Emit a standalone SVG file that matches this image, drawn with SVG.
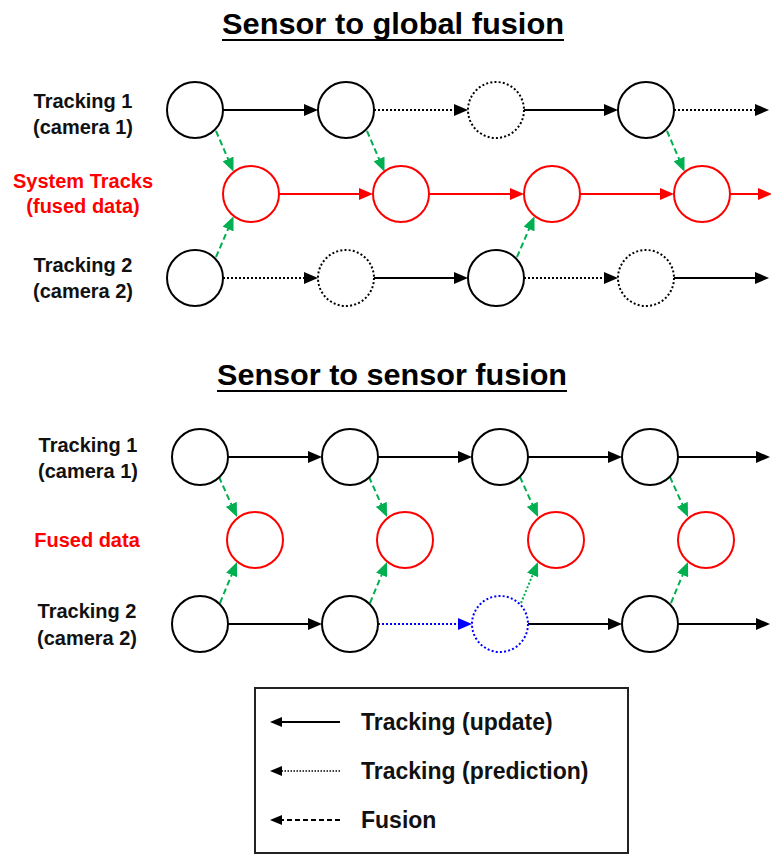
<svg xmlns="http://www.w3.org/2000/svg" width="771" height="855" viewBox="0 0 771 855">
<defs>
<style>
text{font-family:"Liberation Sans",Arial,sans-serif;font-weight:bold;}
.title{font-size:30px;fill:#000;text-anchor:middle;}
.lbl{font-size:20px;text-anchor:middle;fill:#111;}
.red{fill:#FF0000;}
.leg{font-size:23px;fill:#111;}
.n{fill:#fff;stroke:#000;stroke-width:2;}
.nd{fill:#fff;stroke:#000;stroke-width:2;stroke-dasharray:2 2.2;}
.nr{fill:#fff;stroke:#FF0000;stroke-width:2;}
.nb{fill:#fff;stroke:#0000FF;stroke-width:2;stroke-dasharray:2 2.2;}
.s{fill:none;stroke:#000;stroke-width:2;marker-end:url(#ak);}
.d{fill:none;stroke:#000;stroke-width:2;stroke-dasharray:2 2;marker-end:url(#ak);}
.r{fill:none;stroke:#FF0000;stroke-width:2;marker-end:url(#ar);}
.b{fill:none;stroke:#0000FF;stroke-width:2;stroke-dasharray:2 2;marker-end:url(#ab);}
.g{fill:none;stroke:#00B050;stroke-width:2;stroke-dasharray:6 3.5;marker-end:url(#ag);}
.gd{fill:none;stroke:#00B050;stroke-width:2;stroke-dasharray:2 2;marker-end:url(#ag);}
.ls{fill:none;stroke:#000;stroke-width:2;marker-end:url(#al);}
</style>
<marker id="ak" markerUnits="userSpaceOnUse" markerWidth="14" markerHeight="12" refX="1" refY="6" orient="auto"><path d="M0,0 L14,6 L0,12 z" fill="#000"/></marker>
<marker id="ar" markerUnits="userSpaceOnUse" markerWidth="14" markerHeight="12" refX="1" refY="6" orient="auto"><path d="M0,0 L14,6 L0,12 z" fill="#FF0000"/></marker>
<marker id="ab" markerUnits="userSpaceOnUse" markerWidth="14" markerHeight="12" refX="1" refY="6" orient="auto"><path d="M0,0 L14,6 L0,12 z" fill="#0000FF"/></marker>
<marker id="ag" markerUnits="userSpaceOnUse" markerWidth="14" markerHeight="12" refX="1" refY="6" orient="auto"><path d="M0,0 L14,6 L0,12 z" fill="#00B050"/></marker>
<marker id="al" markerUnits="userSpaceOnUse" markerWidth="12" markerHeight="10" refX="1" refY="5" orient="auto"><path d="M0,0 L12,5 L0,10 z" fill="#000"/></marker>
</defs>
<rect width="771" height="855" fill="#fff"/>

<g id="title-top">
<text class="title" x="393" y="34" textLength="342" lengthAdjust="spacingAndGlyphs">Sensor to global fusion</text>
<line x1="222" y1="40" x2="564" y2="40" stroke="#000" stroke-width="2"/>
</g>
<g id="title-bottom">
<text class="title" x="392" y="385" textLength="350" lengthAdjust="spacingAndGlyphs">Sensor to sensor fusion</text>
<line x1="217" y1="391" x2="567" y2="391" stroke="#000" stroke-width="2"/>
</g>

<g id="labels">
<text class="lbl" x="83" y="108">Tracking 1</text>
<text class="lbl" x="83" y="134">(camera 1)</text>
<text class="lbl red" x="83" y="188">System Tracks</text>
<text class="lbl red" x="83" y="213">(fused data)</text>
<text class="lbl" x="83" y="272">Tracking 2</text>
<text class="lbl" x="83" y="298">(camera 2)</text>
<text class="lbl" x="88" y="452">Tracking 1</text>
<text class="lbl" x="88" y="478">(camera 1)</text>
<text class="lbl red" x="87" y="547">Fused data</text>
<text class="lbl" x="87" y="618">Tracking 2</text>
<text class="lbl" x="87" y="645">(camera 2)</text>
</g>

<g id="connectors">
<path class="s" d="M223,110 H305"/>
<path class="d" d="M374,110 H455"/>
<path class="s" d="M524,110 H605"/>
<path class="d" d="M674,110 H756"/>
<path class="r" d="M279,194 H360"/>
<path class="r" d="M429,194 H511"/>
<path class="r" d="M580,194 H661"/>
<path class="r" d="M730,194 H759"/>
<path class="d" d="M223,278 H305"/>
<path class="s" d="M374,278 H455"/>
<path class="d" d="M524,278 H605"/>
<path class="s" d="M674,278 H756"/>
<path class="g" d="M216,131 L228.4,159.9"/>
<path class="g" d="M367,131 L379.4,159.9"/>
<path class="g" d="M667,131 L679.4,159.9"/>
<path class="g" d="M216,257 L228.4,228.1"/>
<path class="g" d="M517,257 L529.4,228.1"/>

<path class="s" d="M228,457 H309"/>
<path class="s" d="M378,457 H459"/>
<path class="s" d="M528,457 H609"/>
<path class="s" d="M678,457 H757"/>
<path class="s" d="M228,624 H309"/>
<path class="b" d="M378,624 H459"/>
<path class="s" d="M528,624 H609"/>
<path class="s" d="M678,624 H757"/>
<path class="g" d="M219,477 L231.7,505.2"/>
<path class="g" d="M369,477 L381.7,505.2"/>
<path class="g" d="M520,477 L532.7,505.2"/>
<path class="g" d="M670,477 L682.7,505.2"/>
<path class="g" d="M220,603 L232,574"/>
<path class="g" d="M370,603 L382,574"/>
<path class="gd" d="M521,603 L533,574"/>
<path class="g" d="M671,603 L683,574"/>
</g>

<g id="t1-1"><circle class="n" cx="195" cy="110" r="28"/></g>
<g id="t1-2"><circle class="n" cx="346" cy="110" r="28"/></g>
<g id="t1-3"><circle class="nd" cx="496" cy="110" r="28"/></g>
<g id="t1-4"><circle class="n" cx="646" cy="110" r="28"/></g>
<g id="st-1"><circle class="nr" cx="251" cy="194" r="28"/></g>
<g id="st-2"><circle class="nr" cx="401" cy="194" r="28"/></g>
<g id="st-3"><circle class="nr" cx="552" cy="194" r="28"/></g>
<g id="st-4"><circle class="nr" cx="702" cy="194" r="28"/></g>
<g id="t2-1"><circle class="n" cx="195" cy="278" r="28"/></g>
<g id="t2-2"><circle class="nd" cx="346" cy="278" r="28"/></g>
<g id="t2-3"><circle class="n" cx="496" cy="278" r="28"/></g>
<g id="t2-4"><circle class="nd" cx="646" cy="278" r="28"/></g>

<g id="b-t1-1"><circle class="n" cx="200" cy="457" r="28"/></g>
<g id="b-t1-2"><circle class="n" cx="350" cy="457" r="28"/></g>
<g id="b-t1-3"><circle class="n" cx="500" cy="457" r="28"/></g>
<g id="b-t1-4"><circle class="n" cx="650" cy="457" r="28"/></g>
<g id="b-f-1"><circle class="nr" cx="255" cy="540" r="28"/></g>
<g id="b-f-2"><circle class="nr" cx="405" cy="540" r="28"/></g>
<g id="b-f-3"><circle class="nr" cx="556" cy="540" r="28"/></g>
<g id="b-f-4"><circle class="nr" cx="706" cy="540" r="28"/></g>
<g id="b-t2-1"><circle class="n" cx="200" cy="624" r="28"/></g>
<g id="b-t2-2"><circle class="n" cx="350" cy="624" r="28"/></g>
<g id="b-t2-3"><circle class="nb" cx="500" cy="624" r="28"/></g>
<g id="b-t2-4"><circle class="n" cx="650" cy="624" r="28"/></g>

<g id="legend">
<rect x="255" y="688" width="373" height="165" fill="none" stroke="#222" stroke-width="2"/>
<path class="ls" d="M340,722 H281"/>
<path class="ls" d="M340,771 H281" style="stroke-width:1.5;stroke-dasharray:1.5 1.5"/>
<path class="ls" d="M340,820 H281" style="stroke-dasharray:5 3"/>
<text class="leg" x="361" y="730">Tracking (update)</text>
<text class="leg" x="361" y="779">Tracking (prediction)</text>
<text class="leg" x="361" y="828">Fusion</text>
</g>
</svg>
